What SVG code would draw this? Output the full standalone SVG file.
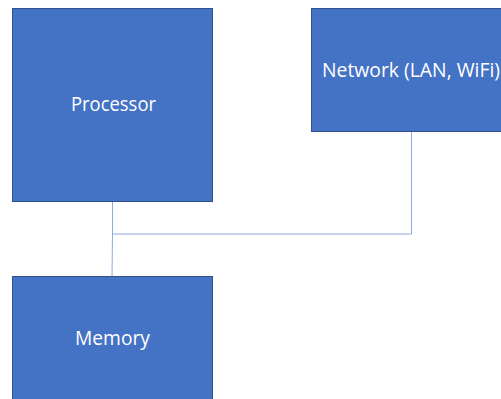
<svg xmlns="http://www.w3.org/2000/svg" width="501" height="399" viewBox="0 0 501 399">
<style>
.box{fill:#4472C4;stroke:#2F528F;stroke-width:1}
.lbl{fill:#FFFFFF;font-family:"Open Sans","Noto Sans",sans-serif;font-size:20px;text-anchor:middle;lengthAdjust:spacingAndGlyphs}
.conn{fill:none;stroke:#8FAADC;stroke-width:1}
</style>
<rect width="501" height="399" fill="#FFFFFF"/>
<g id="connectors">
<path class="conn" d="M112.5,201.5 V234 H411.5 V131.5"/>
<path class="conn" d="M112.5,234 L112,276"/>
</g>
<g id="processor">
<rect class="box" x="12.5" y="8.5" width="200" height="193"/>
<text class="lbl" x="113.5" y="111" textLength="85" lengthAdjust="spacingAndGlyphs">Processor</text>
</g>
<g id="network">
<rect class="box" x="311.5" y="8.5" width="200" height="123"/>
<text class="lbl" x="411" y="77" textLength="178" lengthAdjust="spacingAndGlyphs">Network (LAN, WiFi)</text>
</g>
<g id="memory">
<rect class="box" x="12.5" y="276.5" width="200" height="130"/>
<text class="lbl" x="112.5" y="345" textLength="75" lengthAdjust="spacingAndGlyphs">Memory</text>
</g>
</svg>
